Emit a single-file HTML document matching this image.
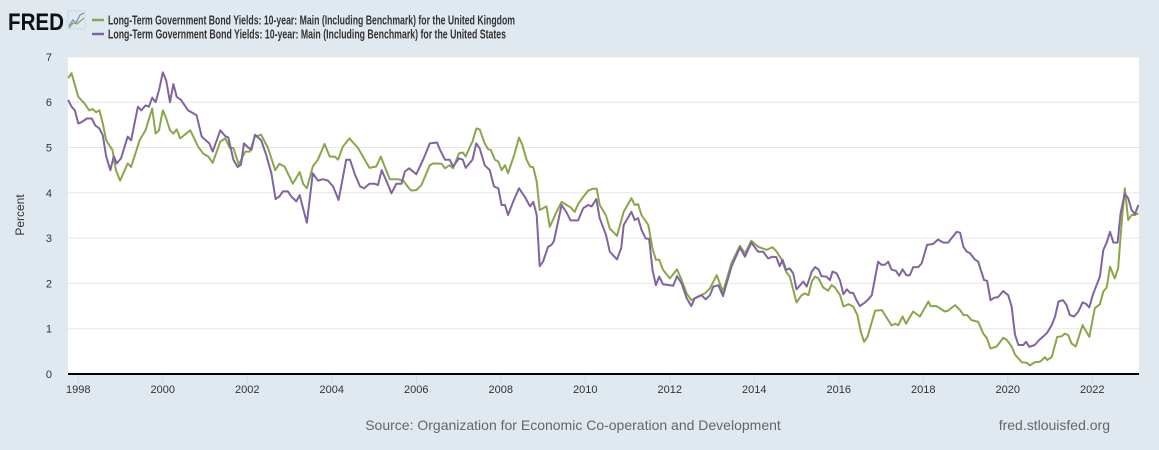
<!DOCTYPE html>
<html><head><meta charset="utf-8"><style>
html,body{margin:0;padding:0;background:#e1e9f0;}
svg{display:block;font-family:"Liberation Sans",Arial,sans-serif;}
</style></head><body>
<svg id="chart" width="1159" height="450" viewBox="0 0 1159 450" xmlns="http://www.w3.org/2000/svg">
<rect width="1159" height="450" fill="#e1e9f0"/>
<g>
<text x="8" y="30" font-size="24" font-weight="bold" fill="#111" textLength="56" lengthAdjust="spacingAndGlyphs">FRED</text>
<rect x="68" y="11" width="17" height="18" fill="#dfe8f2" stroke="#b8c8d8" stroke-width="0.5"/>
<polyline points="69,26 73,20 76,23 80,15 84,13" fill="none" stroke="#6a8fb8" stroke-width="1.2"/>
<polyline points="69,28 73,23 77,24 84,18" fill="none" stroke="#8aa64a" stroke-width="1.2"/>
</g>
<g>
<g>
<line x1="92" y1="20" x2="104" y2="20" stroke="#8aa64a" stroke-width="2.5"/>
<text x="108" y="24.5" font-size="13" font-weight="bold" fill="#333" textLength="407" lengthAdjust="spacingAndGlyphs">Long-Term Government Bond Yields: 10-year: Main (Including Benchmark) for the United Kingdom</text>
</g>
<g>
<line x1="92" y1="34" x2="104" y2="34" stroke="#8064a2" stroke-width="2.5"/>
<text x="108" y="38.5" font-size="13" font-weight="bold" fill="#333" textLength="398" lengthAdjust="spacingAndGlyphs">Long-Term Government Bond Yields: 10-year: Main (Including Benchmark) for the United States</text>
</g>
</g>
<rect x="68" y="57" width="1071" height="317" fill="#fff"/>
<g id="grid"></g>
<g id="yticks"></g>
<g id="xticks"></g>
<g id="series"></g>
<line x1="68" y1="374" x2="1139" y2="374" stroke="#000" stroke-width="2"/>
<text x="0" y="0" transform="translate(24,215) rotate(-90)" text-anchor="middle" font-size="12" fill="#333">Percent</text>
<text x="573" y="430" text-anchor="middle" font-size="14" fill="#666">Source: Organization for Economic Co-operation and Development</text>
<text x="1110" y="430" text-anchor="end" font-size="14" fill="#666">fred.stlouisfed.org</text>
</svg>
<script>
const yTicks=[0,1,2,3,4,5,6,7];
const xTickYears=[1998,2000,2002,2004,2006,2008,2010,2012,2014,2016,2018,2020,2022];
const xTickLabels=["1998","2000","2002","2004","2006","2008","2010","2012","2014","2016","2018","2020","2022"];
const ukYears=[1997.76,1997.84,1998.0,1998.15,1998.26,1998.34,1998.42,1998.5,1998.58,1998.66,1998.81,1998.89,1998.99,1999.17,1999.25,1999.45,1999.59,1999.75,1999.83,1999.91,2000.0,2000.08,2000.17,2000.25,2000.33,2000.41,2000.65,2000.84,2000.96,2001.08,2001.18,2001.36,2001.48,2001.59,2001.67,2001.8,2001.95,2002.06,2002.18,2002.33,2002.49,2002.66,2002.76,2002.88,2003.08,2003.24,2003.32,2003.41,2003.55,2003.67,2003.83,2003.95,2004.07,2004.15,2004.26,2004.42,2004.62,2004.78,2004.89,2005.05,2005.16,2005.37,2005.57,2005.69,2005.81,2005.88,2006.0,2006.12,2006.32,2006.4,2006.6,2006.68,2006.79,2006.87,2007.01,2007.1,2007.17,2007.27,2007.33,2007.42,2007.5,2007.62,2007.7,2007.76,2007.86,2007.94,2008.02,2008.1,2008.17,2008.33,2008.43,2008.51,2008.61,2008.69,2008.77,2008.85,2008.92,2009.0,2009.08,2009.16,2009.32,2009.44,2009.56,2009.65,2009.75,2009.83,2009.95,2010.07,2010.19,2010.27,2010.34,2010.49,2010.58,2010.75,2010.91,2011.09,2011.17,2011.25,2011.33,2011.49,2011.59,2011.67,2011.75,2011.84,2012.0,2012.17,2012.28,2012.4,2012.51,2012.67,2012.83,2012.95,2013.11,2013.26,2013.46,2013.66,2013.78,2013.93,2014.09,2014.29,2014.43,2014.53,2014.65,2014.75,2014.84,2015.0,2015.12,2015.2,2015.28,2015.36,2015.44,2015.52,2015.63,2015.75,2015.83,2015.91,2016.03,2016.11,2016.23,2016.34,2016.44,2016.52,2016.6,2016.68,2016.86,2017.02,2017.25,2017.33,2017.41,2017.51,2017.59,2017.76,2017.92,2018.12,2018.17,2018.31,2018.51,2018.59,2018.75,2018.87,2018.95,2019.04,2019.14,2019.3,2019.42,2019.5,2019.59,2019.74,2019.89,2019.97,2020.09,2020.17,2020.33,2020.45,2020.52,2020.64,2020.76,2020.88,2020.93,2021.04,2021.17,2021.27,2021.35,2021.43,2021.51,2021.61,2021.77,2021.93,2022.06,2022.18,2022.26,2022.34,2022.42,2022.53,2022.61,2022.69,2022.77,2022.85,2022.93,2023.01,2023.09];
const ukValues=[6.53,6.64,6.12,5.97,5.82,5.85,5.78,5.82,5.53,5.16,4.94,4.5,4.27,4.65,4.57,5.16,5.38,5.86,5.31,5.38,5.82,5.64,5.38,5.31,5.4,5.2,5.38,5.01,4.86,4.8,4.66,5.13,5.2,4.99,4.99,4.62,4.91,4.91,5.24,5.28,4.99,4.5,4.64,4.58,4.2,4.46,4.2,4.1,4.58,4.73,5.08,4.8,4.8,4.73,5.02,5.2,4.99,4.73,4.55,4.58,4.8,4.3,4.3,4.27,4.12,4.05,4.06,4.17,4.61,4.65,4.64,4.54,4.61,4.54,4.87,4.89,4.8,5.02,5.13,5.42,5.4,5.09,4.96,4.95,4.73,4.69,4.5,4.61,4.43,4.87,5.22,5.06,4.73,4.58,4.56,4.25,3.62,3.66,3.7,3.25,3.58,3.8,3.73,3.68,3.58,3.75,3.91,4.05,4.09,4.09,3.73,3.5,3.21,3.05,3.58,3.88,3.73,3.75,3.51,3.29,2.77,2.52,2.52,2.3,2.11,2.31,2.08,1.78,1.63,1.71,1.78,1.89,2.18,1.82,2.45,2.83,2.66,2.94,2.81,2.74,2.8,2.7,2.52,2.26,2.15,1.58,1.74,1.78,1.74,2.04,2.15,2.11,1.91,1.84,1.96,1.91,1.74,1.49,1.54,1.49,1.3,0.93,0.71,0.82,1.4,1.41,1.07,1.11,1.08,1.27,1.11,1.38,1.27,1.6,1.5,1.5,1.38,1.4,1.52,1.41,1.3,1.3,1.19,1.15,0.89,0.8,0.56,0.61,0.8,0.76,0.61,0.43,0.26,0.25,0.19,0.26,0.27,0.37,0.31,0.37,0.82,0.83,0.89,0.86,0.67,0.61,1.08,0.82,1.45,1.54,1.82,1.91,2.37,2.11,2.33,3.29,4.1,3.4,3.51,3.51,3.55];
const usYears=[1997.76,1997.84,1997.92,1998.0,1998.08,1998.2,1998.32,1998.4,1998.5,1998.58,1998.66,1998.76,1998.84,1998.91,1999.01,1999.17,1999.25,1999.41,1999.49,1999.59,1999.67,1999.75,1999.83,1999.92,2000.0,2000.08,2000.17,2000.25,2000.33,2000.43,2000.6,2000.8,2000.92,2001.1,2001.18,2001.36,2001.48,2001.55,2001.67,2001.77,2001.85,2001.92,2002.02,2002.1,2002.18,2002.33,2002.45,2002.57,2002.67,2002.76,2002.84,2002.96,2003.04,2003.16,2003.24,2003.33,2003.41,2003.55,2003.67,2003.79,2003.91,2004.03,2004.16,2004.34,2004.43,2004.55,2004.67,2004.77,2004.89,2005.01,2005.09,2005.18,2005.3,2005.41,2005.53,2005.65,2005.73,2005.83,2006.0,2006.16,2006.32,2006.49,2006.56,2006.68,2006.79,2006.87,2007.01,2007.1,2007.17,2007.33,2007.42,2007.5,2007.62,2007.74,2007.84,2007.94,2008.02,2008.1,2008.17,2008.29,2008.43,2008.57,2008.69,2008.77,2008.85,2008.92,2009.0,2009.12,2009.2,2009.26,2009.44,2009.56,2009.65,2009.83,2009.95,2010.07,2010.15,2010.26,2010.34,2010.49,2010.58,2010.75,2010.85,2010.91,2011.09,2011.17,2011.25,2011.33,2011.43,2011.51,2011.59,2011.67,2011.75,2011.84,2012.08,2012.17,2012.28,2012.4,2012.51,2012.59,2012.75,2012.85,2012.95,2013.03,2013.15,2013.26,2013.46,2013.66,2013.78,2013.93,2014.09,2014.21,2014.33,2014.43,2014.52,2014.6,2014.67,2014.75,2014.84,2014.92,2015.0,2015.16,2015.24,2015.36,2015.44,2015.52,2015.59,2015.71,2015.79,2015.85,2015.95,2016.03,2016.11,2016.19,2016.27,2016.34,2016.42,2016.5,2016.62,2016.7,2016.78,2016.93,2017.01,2017.09,2017.17,2017.25,2017.35,2017.43,2017.51,2017.6,2017.68,2017.76,2017.88,2017.96,2018.09,2018.23,2018.35,2018.47,2018.59,2018.67,2018.79,2018.87,2018.95,2019.03,2019.1,2019.22,2019.3,2019.44,2019.51,2019.59,2019.67,2019.77,2019.89,2020.01,2020.09,2020.17,2020.25,2020.37,2020.43,2020.51,2020.64,2020.74,2020.84,2020.93,2021.04,2021.12,2021.2,2021.31,2021.39,2021.47,2021.57,2021.67,2021.77,2021.85,2021.93,2022.01,2022.1,2022.18,2022.26,2022.34,2022.42,2022.5,2022.6,2022.67,2022.77,2022.85,2022.93,2023.01,2023.09];
const usValues=[6.05,5.9,5.82,5.53,5.56,5.64,5.64,5.49,5.42,5.27,4.8,4.5,4.81,4.65,4.76,5.24,5.16,5.9,5.82,5.93,5.9,6.1,6.0,6.3,6.66,6.48,6.0,6.4,6.12,6.05,5.82,5.71,5.24,5.09,4.91,5.38,5.25,5.22,4.73,4.57,4.62,5.09,5.0,4.95,5.28,5.16,4.83,4.43,3.86,3.92,4.03,4.03,3.92,3.81,3.95,3.62,3.34,4.43,4.27,4.3,4.27,4.14,3.84,4.73,4.73,4.4,4.14,4.1,4.2,4.2,4.17,4.5,4.25,3.99,4.2,4.2,4.47,4.54,4.41,4.73,5.09,5.11,4.95,4.73,4.73,4.58,4.76,4.73,4.55,4.73,5.09,4.98,4.61,4.5,4.14,4.1,3.73,3.73,3.51,3.8,4.1,3.91,3.7,3.8,3.51,2.38,2.48,2.81,2.85,2.94,3.73,3.56,3.39,3.39,3.66,3.73,3.7,3.86,3.44,3.07,2.7,2.53,2.78,3.29,3.58,3.4,3.44,3.18,2.99,2.99,2.3,1.96,2.15,1.98,1.95,2.16,2.0,1.67,1.5,1.67,1.74,1.65,1.74,1.93,1.96,1.72,2.37,2.79,2.59,2.9,2.7,2.7,2.55,2.59,2.58,2.38,2.52,2.3,2.33,2.22,1.87,2.04,1.93,2.26,2.36,2.31,2.16,2.15,2.07,2.26,2.22,2.06,1.76,1.87,1.79,1.79,1.63,1.5,1.58,1.65,1.74,2.48,2.41,2.41,2.48,2.3,2.28,2.17,2.31,2.18,2.18,2.36,2.36,2.44,2.85,2.87,2.97,2.9,2.9,3.0,3.14,3.12,2.81,2.7,2.67,2.53,2.48,2.07,2.06,1.63,1.68,1.7,1.83,1.74,1.49,0.87,0.64,0.64,0.71,0.6,0.64,0.75,0.83,0.91,1.08,1.27,1.6,1.63,1.52,1.3,1.27,1.38,1.58,1.55,1.47,1.74,1.96,2.15,2.74,2.9,3.14,2.9,2.9,3.55,3.98,3.88,3.62,3.53,3.73];

const X0=78.3, PX_PER_YR=42.25, Y0=374, PX_PER_UNIT=45.3;
function xScale(yr){return X0+(yr-1998)*PX_PER_YR;}
function yScale(v){return Y0-v*PX_PER_UNIT;}
const NS='http://www.w3.org/2000/svg';
function mk(tag,attrs,parent){const e=document.createElementNS(NS,tag);for(const k in attrs)e.setAttribute(k,attrs[k]);parent.appendChild(e);return e;}
const grid=document.getElementById('grid'),yt=document.getElementById('yticks'),xt=document.getElementById('xticks'),ser=document.getElementById('series');
yTicks.forEach(v=>{
  if(v>0){const g=mk('line',{x1:68,x2:1139,y1:yScale(v),y2:yScale(v),stroke:'#e6e6e6','stroke-width':1},grid);
  
  }
  const t=mk('text',{x:52,y:yScale(v)+4,'text-anchor':'end','font-size':11,fill:'#333'},yt);
  t.textContent=String(v);
  
  
});
xTickYears.forEach((yr,i)=>{
  const x=xScale(yr);
  const l=mk('line',{x1:x,x2:x,y1:375,y2:383,stroke:'#ccd6eb','stroke-width':1},xt);
  
  
  const t=mk('text',{x:x,y:393,'text-anchor':'middle','font-size':11,fill:'#333'},xt);
  t.textContent=xTickLabels[i];
  
  
});
function drawLine(years,vals,color,name){
  const pts=years.map((y,i)=>xScale(y).toFixed(1)+','+yScale(vals[i]).toFixed(1)).join(' ');
  const p=mk('polyline',{points:pts,fill:'none',stroke:color,'stroke-width':2,'stroke-linejoin':'round'},ser);
  
  
}
drawLine(ukYears,ukValues,'#8aa64a','uk-yield-line');
drawLine(usYears,usValues,'#8064a2','us-yield-line');
</script>
</body></html>
